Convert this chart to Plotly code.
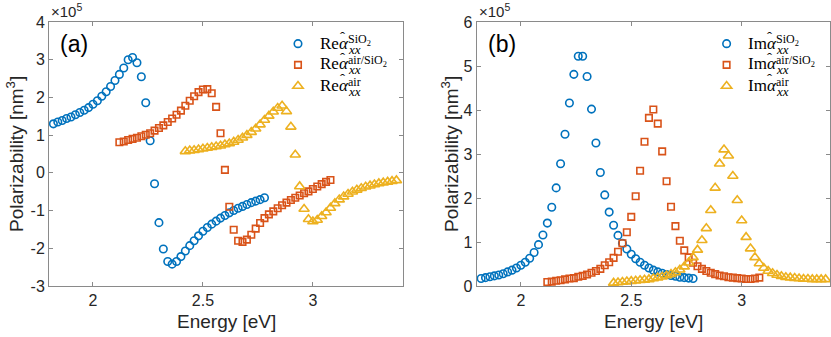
import plotly.graph_objects as go

# photon energy [eV] for each series
energy_sio2 = [1.82, 1.84, 1.86, 1.88, 1.90, 1.92, 1.94, 1.96, 1.98, 2.00,
               2.02, 2.04, 2.06, 2.08, 2.10, 2.12, 2.14, 2.16, 2.18, 2.20,
               2.22, 2.24, 2.26, 2.28, 2.30, 2.32, 2.34, 2.36, 2.38, 2.40,
               2.42, 2.44, 2.46, 2.48, 2.50, 2.52, 2.54, 2.56, 2.58, 2.60,
               2.62, 2.64, 2.66, 2.68, 2.70, 2.72, 2.74, 2.76, 2.78]
energy_mixed = [2.12, 2.14, 2.16, 2.18, 2.20, 2.22, 2.24, 2.26, 2.28, 2.30,
                2.32, 2.34, 2.36, 2.38, 2.40, 2.42, 2.44, 2.46, 2.48, 2.50,
                2.52, 2.54, 2.56, 2.58, 2.60, 2.62, 2.64, 2.66, 2.68, 2.70,
                2.72, 2.74, 2.76, 2.78, 2.80, 2.82, 2.84, 2.86, 2.88, 2.90,
                2.92, 2.94, 2.96, 2.98, 3.00, 3.02, 3.04, 3.06, 3.08]
energy_air = [2.42, 2.44, 2.46, 2.48, 2.50, 2.52, 2.54, 2.56, 2.58, 2.60,
              2.62, 2.64, 2.66, 2.68, 2.70, 2.72, 2.74, 2.76, 2.78, 2.80,
              2.82, 2.84, 2.86, 2.88, 2.90, 2.92, 2.94, 2.96, 2.98, 3.00,
              3.02, 3.04, 3.06, 3.08, 3.10, 3.12, 3.14, 3.16, 3.18, 3.20,
              3.22, 3.24, 3.26, 3.28, 3.30, 3.32, 3.34, 3.36, 3.38]

# polarizability in units of 1e5 nm^3
re_sio2 = [1.30, 1.35, 1.39, 1.44, 1.48, 1.54, 1.60, 1.66, 1.73, 1.82,
           1.91, 2.03, 2.15, 2.29, 2.45, 2.61, 2.78, 3.00, 3.06, 2.92,
           2.55, 1.86, 0.85, -0.29, -1.32, -2.02, -2.35, -2.42, -2.35, -2.22,
           -2.07, -1.93, -1.80, -1.67, -1.55, -1.45, -1.36, -1.28, -1.20, -1.13,
           -1.06, -1.00, -0.94, -0.89, -0.84, -0.79, -0.75, -0.71, -0.66]
re_mixed = [0.81, 0.83, 0.87, 0.90, 0.93, 0.97, 1.01, 1.05, 1.12, 1.19,
            1.26, 1.35, 1.44, 1.54, 1.65, 1.78, 1.91, 2.03, 2.14, 2.21,
            2.22, 2.11, 1.75, 1.05, 0.08, -0.90, -1.51, -1.80, -1.83, -1.77,
            -1.64, -1.48, -1.33, -1.20, -1.10, -1.02, -0.94, -0.86, -0.79, -0.72,
            -0.66, -0.60, -0.54, -0.49, -0.43, -0.36, -0.30, -0.24, -0.19]
re_air = [0.57, 0.59, 0.60, 0.62, 0.64, 0.66, 0.68, 0.70, 0.72, 0.75,
          0.78, 0.82, 0.87, 0.93, 1.00, 1.08, 1.17, 1.28, 1.40, 1.51,
          1.62, 1.72, 1.78, 1.63, 1.22, 0.48, -0.36, -0.96, -1.23, -1.29,
          -1.25, -1.15, -1.05, -0.93, -0.81, -0.71, -0.63, -0.56, -0.50, -0.45,
          -0.41, -0.37, -0.34, -0.31, -0.28, -0.26, -0.24, -0.22, -0.20]

im_sio2 = [0.17, 0.19, 0.21, 0.23, 0.25, 0.28, 0.32, 0.36, 0.41, 0.47,
           0.54, 0.63, 0.76, 0.94, 1.16, 1.43, 1.79, 2.23, 2.78, 3.45,
           4.16, 4.81, 5.22, 5.22, 4.76, 4.02, 3.25, 2.58, 2.07, 1.68,
           1.38, 1.15, 0.97, 0.84, 0.72, 0.62, 0.54, 0.47, 0.41, 0.36,
           0.32, 0.29, 0.26, 0.24, 0.22, 0.20, 0.19, 0.18, 0.17]
im_mixed = [0.09, 0.10, 0.12, 0.13, 0.15, 0.17, 0.18, 0.21, 0.23, 0.26,
            0.30, 0.34, 0.39, 0.47, 0.54, 0.64, 0.78, 0.97, 1.22, 1.57,
            2.04, 2.62, 3.28, 3.82, 4.01, 3.69, 3.06, 2.38, 1.80, 1.36,
            1.03, 0.81, 0.65, 0.53, 0.45, 0.39, 0.34, 0.30, 0.27, 0.24,
            0.22, 0.20, 0.19, 0.18, 0.17, 0.16, 0.16, 0.17, 0.19]
im_air = [0.07, 0.08, 0.09, 0.10, 0.11, 0.12, 0.13, 0.14, 0.15, 0.17,
          0.19, 0.21, 0.24, 0.27, 0.31, 0.37, 0.44, 0.53, 0.65, 0.82,
          1.04, 1.31, 1.72, 2.23, 2.78, 3.10, 2.96, 2.50, 1.95, 1.49,
          1.11, 0.85, 0.65, 0.51, 0.41, 0.34, 0.29, 0.25, 0.22, 0.20,
          0.19, 0.18, 0.17, 0.16, 0.16, 0.15, 0.15, 0.15, 0.15]

x_ticks = [2, 2.5, 3]
x_ticktext = ["2", "2.5", "3"]
ya_ticks = [-3, -2, -1, 0, 1, 2, 3, 4]
ya_ticktext = ["-3", "-2", "-1", "0", "1", "2", "3", "4"]
yb_ticks = [0, 1, 2, 3, 4, 5, 6]
yb_ticktext = ["0", "1", "2", "3", "4", "5", "6"]

legend_sup = ["SiO<sub>2</sub>", "air/SiO<sub>2</sub>", "air"]

BLUE = "#0072BD"
ORANGE = "#D95319"
YELLOW = "#EDB120"
AXIS = "#8a8a8a"
TEXT = "#262626"
SANS = "Liberation Sans, Arial, sans-serif"
SERIF = "Liberation Serif, Times New Roman, serif"

series = [
    ("circle-open", BLUE, 7.5, energy_sio2, re_sio2, im_sio2),
    ("square-open", ORANGE, 6.5, energy_mixed, re_mixed, im_mixed),
    ("triangle-up-open", YELLOW, 9, energy_air, re_air, im_air),
]

fig = go.Figure()

for symbol, color, size, e, re, im in series:
    fig.add_trace(go.Scatter(
        x=e, y=re, mode="markers", xaxis="x", yaxis="y", legend="legend", name="",
        marker=dict(symbol=symbol, size=size, color=color,
                    line=dict(color=color, width=1.6)),
    ))
for symbol, color, size, e, re, im in series:
    fig.add_trace(go.Scatter(
        x=e, y=im, mode="markers", xaxis="x2", yaxis="y2", legend="legend2", name="",
        marker=dict(symbol=symbol, size=size, color=color,
                    line=dict(color=color, width=1.6)),
    ))

axis_common = dict(
    showline=True, linecolor=AXIS, linewidth=1, mirror="ticks",
    ticks="inside", ticklen=4, tickcolor=AXIS, showgrid=False, zeroline=False,
    tickfont=dict(family=SANS, size=16, color=TEXT),
)

fig.update_layout(
    width=831, height=337,
    margin=dict(l=49, r=1, t=22, b=51),
    paper_bgcolor="white", plot_bgcolor="white",
    font=dict(family=SANS, color=TEXT),
    xaxis=dict(domain=[0, 0.4533], range=[1.8, 3.41], tickvals=x_ticks,
               ticktext=x_ticktext, anchor="y", **axis_common),
    yaxis=dict(range=[-3, 4], tickvals=ya_ticks, ticktext=ya_ticktext, anchor="x",
               **axis_common),
    xaxis2=dict(domain=[0.5476, 1], range=[1.8, 3.4], tickvals=x_ticks,
                ticktext=x_ticktext, anchor="y2", **axis_common),
    yaxis2=dict(range=[0, 6], tickvals=yb_ticks, ticktext=yb_ticktext, anchor="x2",
                **axis_common),
    legend=dict(x=0.2932, y=0.977, xanchor="left", yanchor="top",
                bgcolor="rgba(0,0,0,0)", itemwidth=30,
                font=dict(family=SERIF, size=14, color="black")),
    legend2=dict(x=0.842, y=0.977, xanchor="left", yanchor="top",
                 bgcolor="rgba(0,0,0,0)", itemwidth=30,
                 font=dict(family=SERIF, size=14, color="black")),
)


# helpers take screen pixels (plot area spans x 49..830, y 22..286)
def px_x(px):
    return (px - 49) / 781


def px_y(py):
    return (286 - py) / 264


def note(text, x, y, size, family=SANS, color=TEXT, xanchor="left", angle=0):
    return dict(text=text, xref="paper", yref="paper", x=px_x(x), y=px_y(y),
                xanchor=xanchor, yanchor="middle", showarrow=False, textangle=angle,
                font=dict(family=family, size=size, color=color))


annotations = []
panels = [(49, 403, 15, "(a)", "Re"), (476.7, 830, 450, "(b)", "Im")]
for x0, x1, ylab_x, label, part in panels:
    annotations.append(note("×10<sup>5</sup>", x0, 11, 15))
    annotations.append(note(label, x0 + 9, 44, 23, color="black"))
    annotations.append(note("Energy [eV]", (x0 + x1) / 2, 322, 19, xanchor="center"))
    annotations.append(note("Polarizability [nm<sup>3</sup>]", ylab_x, 154, 19,
                            xanchor="center", angle=-90))
    # legend text: part + alpha hat with stacked super/subscripts
    tx = x1 - 85 if part == "Re" else x1 - 84.3
    for ry, sup in zip([43, 64, 85], legend_sup):
        annotations.append(note(part + "<i>α</i>", tx, ry, 17, SERIF, "black"))
        annotations.append(note("ˆ", tx + 24, ry - 6, 15, SERIF, "black", "center"))
        annotations.append(note(sup, tx + 28, ry - 3, 12, SERIF, "black"))
        annotations.append(note("<i>xx</i>", tx + 28, ry + 6, 13, SERIF, "black"))

fig.update_layout(annotations=annotations)

# drop the page's default body margin so the figure fills the window exactly
fig.write_html("out.html", config={"displayModeBar": False},
               post_script="document.body.style.margin = '0';")
